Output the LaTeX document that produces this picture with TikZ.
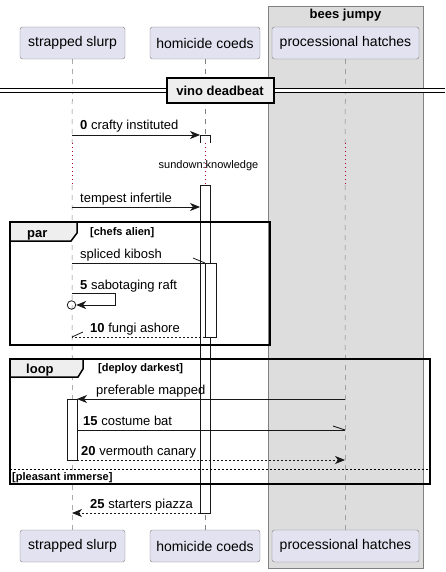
\documentclass[tikz,border=0pt]{standalone}
\usepackage{fontspec}
\setmainfont{Liberation Sans}
\usetikzlibrary{arrows.meta,positioning}
\definecolor{actorfill}{HTML}{E2E2F0}
\definecolor{actorline}{HTML}{181818}
\definecolor{groupfill}{HTML}{DDDDDD}
\definecolor{tabfill}{HTML}{EEEEEE}
\definecolor{delayline}{HTML}{A80036}
\begin{document}
\begin{tikzpicture}[x=1pt,y=-1pt]
            \tikzstyle{actor}=[draw=actorline!55,fill=actorfill,rounded corners=2.5pt,minimum height=32pt,inner sep=0pt,font=\fontsize{14}{16}\selectfont]
            \tikzstyle{lifeline}=[draw=actorline!55,dash pattern=on 5pt off 5pt,line width=0.5pt]
            \tikzstyle{delay}=[draw=delayline,dash pattern=on 1pt off 3pt,line width=0.7pt]
            \tikzstyle{activation}=[draw=actorline,fill=white,line width=0.8pt]
            \tikzstyle{msg}=[draw=actorline,line width=0.8pt,-{Stealth[length=10pt,width=8pt,inset=3pt]}]
            \tikzstyle{reply}=[msg,dash pattern=on 2pt off 2pt]
            \tikzstyle{half}=[draw=actorline,line width=0.8pt]
            \tikzstyle{msgtext}=[anchor=base west,inner sep=0pt,font=\fontsize{13}{15}\selectfont]
            \tikzstyle{guardtext}=[anchor=base west,inner sep=0pt,font=\fontsize{11}{13}\selectfont\bfseries]
            \tikzstyle{groupframe}=[draw=black,line width=1.5pt]
            \tikzstyle{grouptab}=[draw=black,line width=1.5pt,fill=tabfill]

            \useasboundingbox (0,0) rectangle (445,572);

            % box round the third participant
            \node(bees)[draw=actorline!55,fill=groupfill,minimum width=155pt,minimum height=562pt,inner sep=0pt,anchor=north west] at (268,6) {};
            \node(beestitle)[anchor=base,inner sep=0pt,font=\fontsize{13}{15}\selectfont\bfseries] at (345.5,19) {bees jumpy};

            % participants
            \node(slurp)[actor,minimum width=105pt] at (72.5,43) {strapped slurp};
            \node(coeds)[actor,minimum width=110pt] at (205,43) {homicide coeds};
            \node(hatches)[actor,minimum width=147pt] at (345.5,43) {processional hatches};
            \node(slurpend)[actor,minimum width=105pt] at (72.5,546) {strapped slurp};
            \node(coedsend)[actor,minimum width=110pt] at (205,546) {homicide coeds};
            \node(hatchesend)[actor,minimum width=147pt] at (345.5,546) {processional hatches};

            % lifelines, broken by the delay
            \coordinate(slurpd1) at (72,143); \coordinate(slurpd2) at (72,185);
            \coordinate(coedsd1) at (205,143); \coordinate(coedsd2) at (205,185);
            \coordinate(hatchesd1) at (345,143); \coordinate(hatchesd2) at (345,185);
            \draw[lifeline] (slurp.south) -- (slurpd1);
            \draw[delay] (slurpd1) -- (slurpd2);
            \draw[lifeline] (slurpd2) -- (slurpend.north);
            \draw[lifeline] (coeds.south) -- (coedsd1);
            \draw[delay] (coedsd1) -- (coedsd2);
            \draw[lifeline] (coedsd2) -- (coedsend.north);
            \draw[lifeline] (hatches.south) -- (hatchesd1);
            \draw[delay] (hatchesd1) -- (hatchesd2);
            \draw[lifeline] (hatchesd2) -- (hatchesend.north);

            % separator
            \coordinate(sepl) at (0,91); \coordinate(sepr) at (445,91);
            \draw[double,double distance=3pt,line width=1pt] (sepl) -- (sepr);
            \node(sep)[draw=black,line width=2pt,fill=tabfill,minimum width=107pt,minimum height=25pt,inner sep=0pt,font=\fontsize{13}{15}\selectfont\bfseries] at (220,91) {vino deadbeat};

            % activations
            \fill[white] (200,135) rectangle (210,143);
            \draw[activation] (200,143) -- (200,135) -- (210,135) -- (210,143);
            \draw[activation] (200,185) rectangle (210,513);
            \draw[activation] (205,263) rectangle (216,337);
            \draw[activation] (67,399) rectangle (77,460);

            % messages
            \coordinate(m0a) at (72,135); \coordinate(m0b) at (200,135);
            \draw[msg] (m0a) -- (m0b);
            \node(t0)[msgtext] at (80,130) {\textbf{0} crafty instituted};

            \node(wait)[anchor=base,inner sep=0pt,font=\fontsize{11}{13}\selectfont] at (208.5,168) {sundown:knowledge};

            \coordinate(m1a) at (72,207); \coordinate(m1b) at (200,207);
            \draw[msg] (m1a) -- (m1b);
            \node(t1)[msgtext] at (80,202) {tempest infertile};

            % par
            \draw[grouptab] (10,241) -- (71,241) -- (77,233) -- (77,222) -- (10,222) -- cycle;
            \draw[groupframe] (10,222) rectangle (270,345);
            \node(par)[anchor=base west,inner sep=0pt,font=\fontsize{13}{15}\selectfont\bfseries] at (27,237) {par};
            \node(pargd)[guardtext] at (90,235) {[chefs alien]};

            \coordinate(m2a) at (72,263); \coordinate(m2b) at (205,263); \coordinate(m2h) at (193,258);
            \draw[half] (m2a) -- (m2b);
            \draw[half] (m2h) -- (m2b);
            \node(t2)[msgtext] at (80,258) {spliced kibosh};

            \coordinate(m3a) at (72,293); \coordinate(m3b) at (115,293); \coordinate(m3c) at (115,305);
            \node(lost)[circle,draw=actorline,line width=0.8pt,inner sep=0pt,minimum size=8.5pt] at (71.5,305) {};
            \draw[msg] (m3a) -- (m3b) -- (m3c) -- (lost);
            \node(t3)[msgtext] at (80,289) {\textbf{5} sabotaging raft};

            \coordinate(m4a) at (205,337); \coordinate(m4b) at (72,337); \coordinate(m4h) at (83,332);
            \draw[half,dash pattern=on 2pt off 2pt] (m4a) -- (m4b);
            \draw[half] (m4h) -- (m4b);
            \node(t4)[msgtext] at (90,332) {\textbf{10} fungi ashore};

            % loop
            \draw[grouptab] (10,377) -- (78,377) -- (83,369) -- (83,359) -- (10,359) -- cycle;
            \draw[groupframe] (10,359) rectangle (430,484);
            \node(loop)[anchor=base west,inner sep=0pt,font=\fontsize{13}{15}\selectfont\bfseries] at (26,373) {loop};
            \node(loopgd)[guardtext] at (98,371) {[deploy darkest]};
            \coordinate(elsel) at (10,469); \coordinate(elser) at (430,469);
            \draw[line width=1pt,dash pattern=on 2pt off 2pt] (elsel) -- (elser);
            \node(elsegd)[guardtext] at (12,480) {[pleasant immerse]};

            \coordinate(m5a) at (345,399); \coordinate(m5b) at (77,399);
            \draw[msg] (m5a) -- (m5b);
            \node(t5)[msgtext] at (96,394) {preferable mapped};

            \coordinate(m6a) at (77,430); \coordinate(m6b) at (345,430); \coordinate(m6h) at (333,426);
            \draw[half] (m6a) -- (m6b);
            \draw[half] (m6h) -- (m6b);
            \node(t6)[msgtext] at (83,425) {\textbf{15} costume bat};

            \coordinate(m7a) at (77,460); \coordinate(m7b) at (345,460);
            \draw[reply] (m7a) -- (m7b);
            \node(t7)[msgtext] at (81,455) {\textbf{20} vermouth canary};

            \coordinate(m8a) at (200,513); \coordinate(m8b) at (72,513);
            \draw[reply] (m8a) -- (m8b);
            \node(t8)[msgtext] at (90,508) {\textbf{25} starters piazza};
\end{tikzpicture}
\end{document}
